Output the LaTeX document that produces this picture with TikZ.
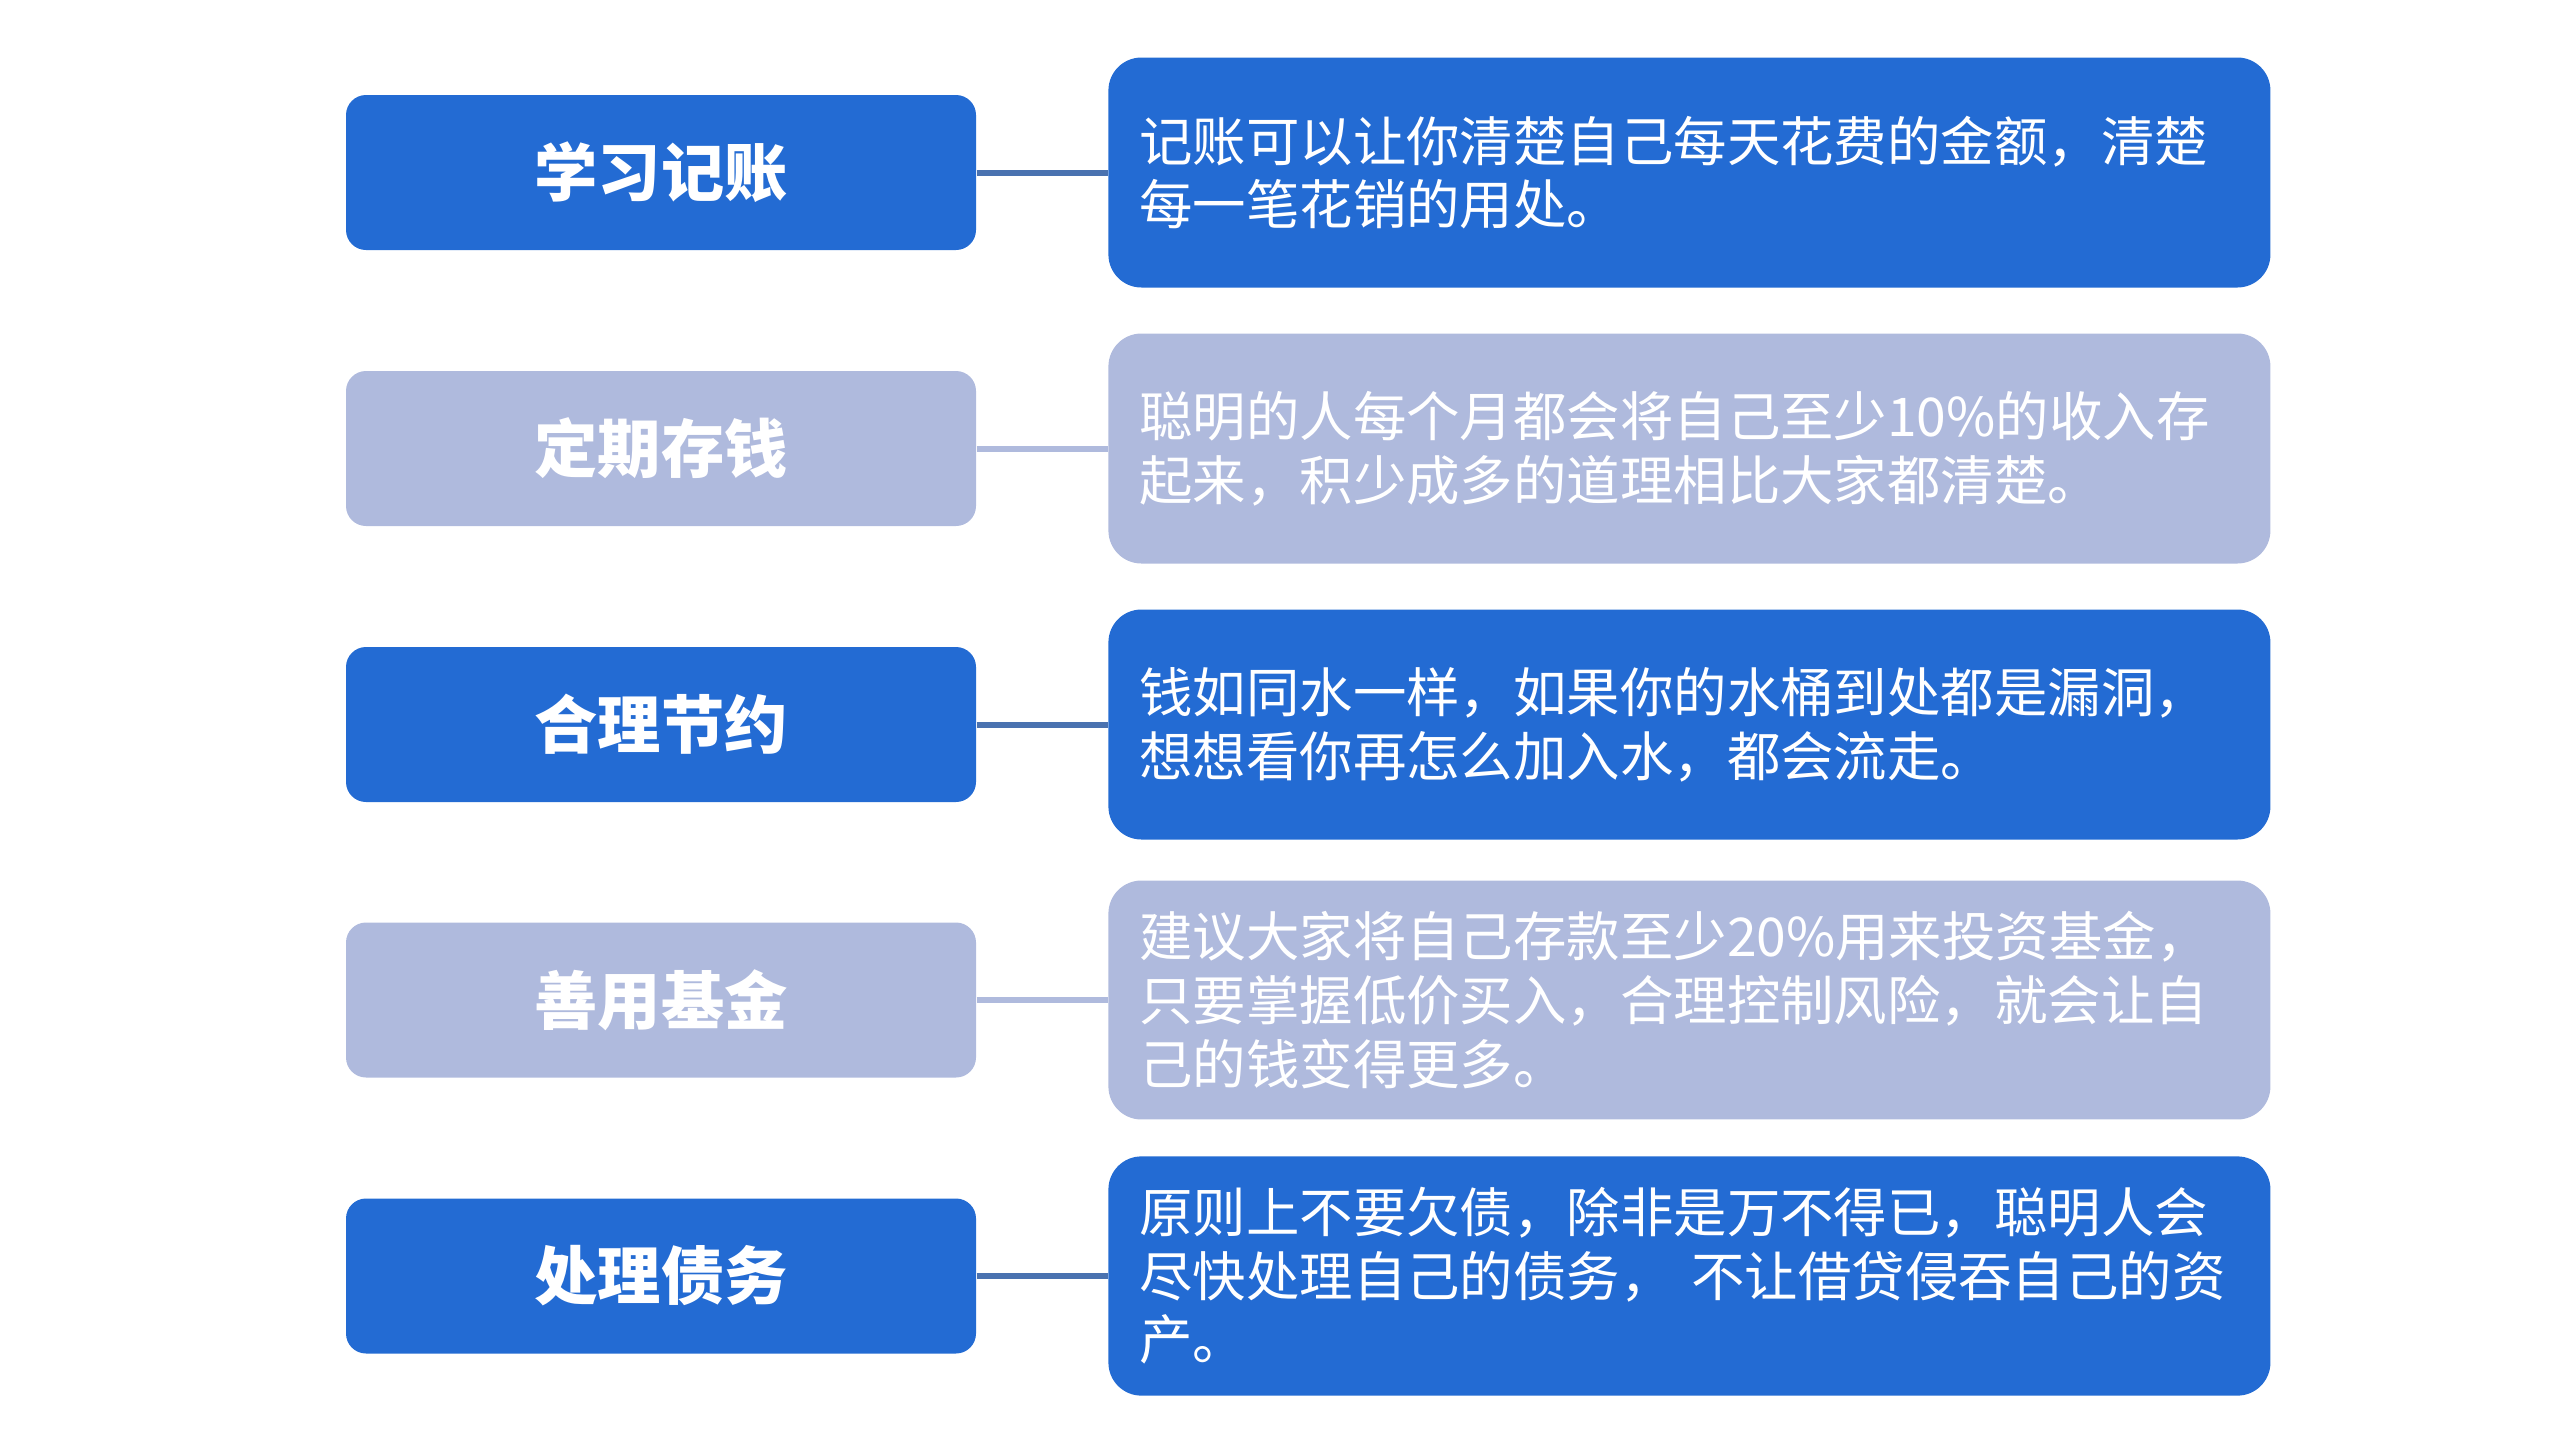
\documentclass[tikz,border=0pt]{standalone}
\usepackage{fontspec}
\newfontfamily\cjk{Noto Sans CJK SC}
\usetikzlibrary{positioning}
\definecolor{tipblue}{HTML}{236BD3}
\definecolor{tipgray}{HTML}{AFBADD}
\definecolor{linkblue}{HTML}{4A72B0}

\begin{document}
\begin{tikzpicture}[
  x=1cm, y=1cm,
  hd/.style   = {rounded corners=0.2cm, minimum width=6.3cm, minimum height=1.55cm,
                 inner sep=0pt, text=white, font=\cjk\bfseries\fontsize{18}{22}\selectfont},
  desc/.style = {rounded corners=0.33cm, minimum width=11.62cm, minimum height=2.3cm,
                 text width=11.0cm, inner sep=0.31cm, align=left, text=white,
                 font=\cjk\fontsize{15.2}{18.1}\selectfont},
  link/.style = {line width=0.06cm}
]
\useasboundingbox (0,0) rectangle (25.6,-14.4);

% 左侧标题
\node[hd, fill=tipblue] (h1) at (6.61,-1.725) {学习记账};
\node[hd, fill=tipgray] (h2) at (6.61,-4.485) {定期存钱};
\node[hd, fill=tipblue] (h3) at (6.61,-7.245) {合理节约};
\node[hd, fill=tipgray] (h4) at (6.61,-10.0) {善用基金};
\node[hd, fill=tipblue] (h5) at (6.61,-12.76) {处理债务};

% 右侧说明
\node[desc, fill=tipblue, right=1.31cm of h1] (d1)
  {记账可以让你清楚自己每天花费的金额，清楚\\每一笔花销的用处。};
\node[desc, fill=tipgray, right=1.31cm of h2] (d2)
  {聪明的人每个月都会将自己至少10\%的收入存\\起来，积少成多的道理相比大家都清楚。};
\node[desc, fill=tipblue, right=1.31cm of h3] (d3)
  {钱如同水一样，如果你的水桶到处都是漏洞，\\想想看你再怎么加入水，都会流走。};
\node[desc, fill=tipgray, right=1.31cm of h4] (d4)
  {建议大家将自己存款至少20\%用来投资基金，\\只要掌握低价买入，合理控制风险，就会让自\\己的钱变得更多。};
\node[desc, fill=tipblue, right=1.31cm of h5] (d5)
  {原则上不要欠债，除非是万不得已，聪明人会\\尽快处理自己的债务， 不让借贷侵吞自己的资\\产。};

% 连线
\draw[link, linkblue] (h1.east) -- (d1.west);
\draw[link, tipgray]  (h2.east) -- (d2.west);
\draw[link, linkblue] (h3.east) -- (d3.west);
\draw[link, tipgray]  (h4.east) -- (d4.west);
\draw[link, linkblue] (h5.east) -- (d5.west);

\end{tikzpicture}
\end{document}
